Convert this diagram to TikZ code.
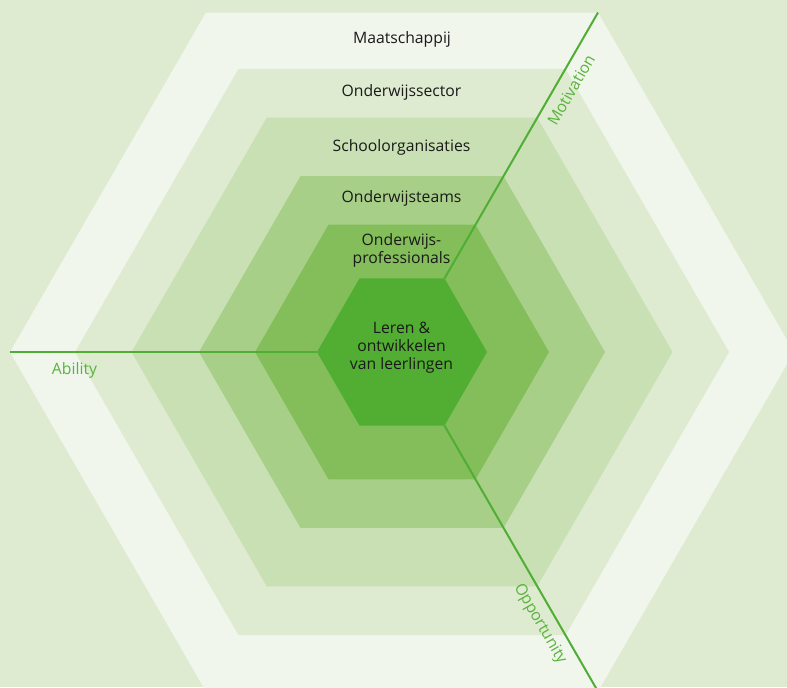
\documentclass[tikz,border=0pt]{standalone}
\usepackage{fontspec}
\setmainfont{Open Sans}
\usetikzlibrary{calc}
\definecolor{bgc}{HTML}{DEEBD0}
\definecolor{ringA}{HTML}{F0F6EC}
\definecolor{ringB}{HTML}{DEEBD0}
\definecolor{ringC}{HTML}{C8E0B4}
\definecolor{ringD}{HTML}{A8CF88}
\definecolor{ringE}{HTML}{83BE5B}
\definecolor{ringF}{HTML}{52AE32}
\definecolor{axisc}{HTML}{4FAE33}
\definecolor{labc}{HTML}{58B33C}
\definecolor{txtc}{HTML}{1A1A1A}
\begin{document}
\begin{tikzpicture}[x=0.75pt,y=-0.75pt,
  every node/.style={font=\fontsize{11.8}{13.5}\selectfont, text=txtc, inner sep=0pt},
  ring/.style={anchor=base},
  axisline/.style={draw=axisc, line width=1.5pt},
  axislabel/.style={text=labc, anchor=center}]
\useasboundingbox (0,0) rectangle (787,687);
\fill[bgc] (0,0) rectangle (787,687);
\coordinate (c) at (402,352);
\begin{scope}
  \clip (0,0) rectangle (787,687);
  % nested hexagons, outermost first
  \foreach \r/\col in {392/ringA, 327/ringB, 270.5/ringC, 203/ringD, 147/ringE, 85/ringF} {
    \fill[\col] (c) +(0:\r) -- +(60:\r) -- +(120:\r) -- +(180:\r) -- +(240:\r) -- +(300:\r) -- cycle;
  }
  % hexagon corners used by the three axes
  \coordinate (inL) at ($(c)+(180:85)$);
  \coordinate (outL) at ($(c)+(180:392)$);
  \coordinate (inTR) at ($(c)+(-60:85)$);
  \coordinate (outTR) at ($(c)+(-60:392)$);
  \coordinate (inBR) at ($(c)+(60:85)$);
  \coordinate (outBR) at ($(c)+(60:392)$);
  \draw[axisline] (outL) -- (inL);
  \draw[axisline] (inTR) -- (outTR);
  \draw[axisline] (inBR) -- (outBR);
\end{scope}
% ring titles
\node[ring] (maat) at (402,43.5) {Maatschappij};
\node[ring] (sector) at (401.5,96.5) {Onderwijssector};
\node[ring] (school) at (401.5,151) {Schoolorganisaties};
\node[ring] (teams) at (401.5,202.7) {Onderwijsteams};
\node[align=center] (prof) at (401.5,250.5) {Onderwijs-\\professionals};
\node[align=center] (core) at (401.5,348) {Leren \&\\ontwikkelen\\van leerlingen};
% axis labels
\node[axislabel, anchor=base west] (abil) at (51.7,374.3) {Ability};
\node[axislabel, rotate=60] (motiv) at (571,90) {Motivation};
\node[axislabel, rotate=-60] (oppo) at (540,624) {Opportunity};
\end{tikzpicture}
\end{document}
